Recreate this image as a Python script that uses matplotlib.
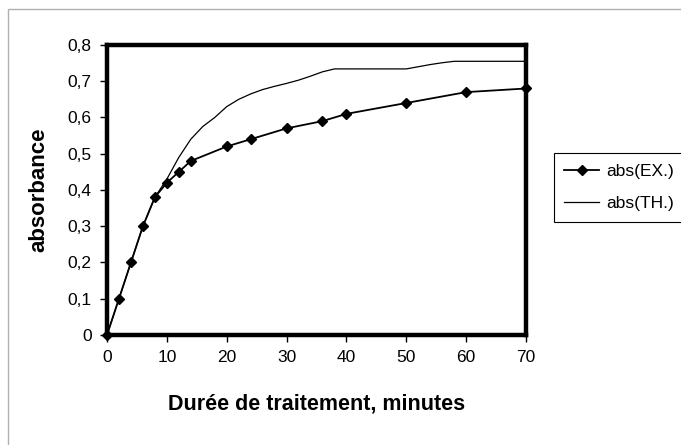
# -*- coding: utf-8 -*-
"""
Absorbance en fonction de la durée de traitement (expérimental vs théorique)
"""

import matplotlib
matplotlib.use('Agg')
import matplotlib.pyplot as plt
from matplotlib.patches import Rectangle
from matplotlib.ticker import FuncFormatter

# données
temps_ex = [0, 2, 4, 6, 8, 10, 12, 14, 20, 24, 30, 36, 40, 50, 60, 70]
abs_ex = [0, 0.10, 0.20, 0.30, 0.38, 0.42, 0.45, 0.48, 0.52, 0.54,
          0.57, 0.59, 0.61, 0.64, 0.67, 0.68]

temps_th = [0, 2, 4, 6, 8, 10, 12, 14, 16, 18, 20, 22, 24, 26, 28, 30,
            32, 34, 36, 38, 40, 50, 52, 54, 56, 58, 60, 70]
abs_th = [0, 0.10, 0.20, 0.30, 0.38, 0.43, 0.49, 0.54, 0.575, 0.60, 0.63,
          0.65, 0.665, 0.677, 0.686, 0.694, 0.703, 0.714, 0.726, 0.734,
          0.734, 0.734, 0.740, 0.746, 0.751, 0.755, 0.755, 0.755]

x_ticks = [0, 10, 20, 30, 40, 50, 60, 70]
y_ticks = [0, 0.1, 0.2, 0.3, 0.4, 0.5, 0.6, 0.7, 0.8]

plt.rcParams['font.family'] = ['Liberation Sans', 'DejaVu Sans']

fig = plt.figure(figsize=(6.81, 4.45), dpi=100)
ax = fig.add_axes([0.1571, 0.2472, 0.6153, 0.6517])

ax.plot(temps_ex, abs_ex, color='black', lw=1.3, marker='D', ms=5,
        label='abs(EX.)', clip_on=False, zorder=3)
ax.plot(temps_th, abs_th, color='black', lw=0.9, label='abs(TH.)')

ax.set_xlim(0, 70)
ax.set_ylim(0, 0.8)
ax.set_xticks(x_ticks)
ax.set_yticks(y_ticks)
ax.yaxis.set_major_formatter(
    FuncFormatter(lambda v, p: '0' if v == 0 else ('%.1f' % v).replace('.', ',')))

for s in ax.spines.values():
    s.set_linewidth(3.2)
ax.tick_params(direction='out', length=5, width=1, pad=6, labelsize=12.5)

ax.set_xlabel('Durée de traitement, minutes', fontsize=15.5, fontweight='bold',
              labelpad=20)
ax.set_ylabel('absorbance', fontsize=16, fontweight='bold', labelpad=13)

leg = ax.legend(loc='upper left', bbox_to_anchor=(0.8135, 0.656),
                bbox_transform=fig.transFigure, fontsize=12.5,
                frameon=True, fancybox=False, framealpha=1, edgecolor='black',
                handlelength=2.0, borderpad=0.6, labelspacing=1.0,
                handletextpad=0.4, borderaxespad=0)
leg.get_frame().set_linewidth(0.8)

# cadre gris du graphique
fig.patches.append(Rectangle((8 / 681, -0.01), 1.0, 1 - 9 / 445 + 0.01,
                             transform=fig.transFigure, fill=False,
                             edgecolor='#b0b0b0', lw=1))

fig.savefig('out.png', dpi=100)
